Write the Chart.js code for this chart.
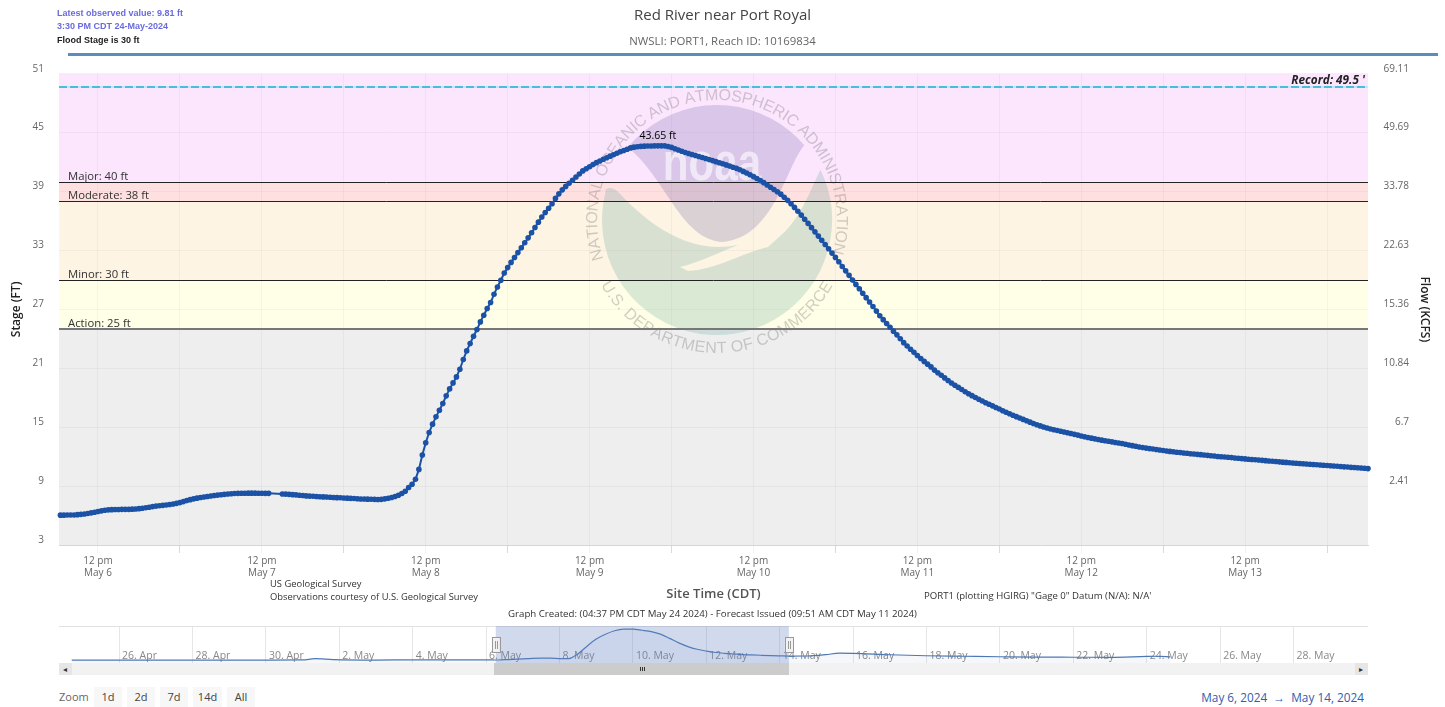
<!DOCTYPE html>
<html>
<head>
<meta charset="utf-8">
<title>Red River near Port Royal</title>
<script src="https://cdn.jsdelivr.net/npm/chart.js@4/dist/chart.umd.min.js"></script>
<style>
  html, body { margin: 0; padding: 0; background: #fff; }
  body { width: 1445px; height: 707px; position: relative; overflow: hidden; font-family: "Open Sans", sans-serif; }
  canvas { position: absolute; left: 0; }
  .txt { position: absolute; white-space: nowrap; line-height: 12px; }
  .box { position: absolute; }
  .note { font-size: 9.4px; color: #333; }
  .head { font-family: "Liberation Sans", sans-serif; font-size: 9px; font-weight: bold; color: #6a6ae0; }
  .zbtn { position: absolute; top: 687px; height: 20px; line-height: 20px; background: #f7f7f7; color: #444; font-size: 11px; text-align: center; }
</style>
</head>
<body>
<canvas id="mainChart" width="1445" height="602" style="top:0"></canvas>
<canvas id="navChart" width="1445" height="60" style="top:620px"></canvas>

<div class="txt head" style="left:57px;top:7px">Latest observed value: 9.81 ft</div>
<div class="txt head" style="left:57px;top:20px">3:30 PM CDT 24-May-2024</div>
<div class="txt head" style="left:57px;top:34px;color:#222">Flood Stage is 30 ft</div>
<div class="box" style="left:68px;top:53px;width:1370px;height:3px;background:#5b8cc0"></div>

<div class="txt note" style="left:270px;top:578px">US Geological Survey</div>
<div class="txt note" style="left:270px;top:591px">Observations courtesy of U.S. Geological Survey</div>
<div class="txt note" style="left:924px;top:590px;font-size:9.6px">PORT1 (plotting HGIRG) "Gage 0" Datum (N/A): N/A'</div>
<div class="txt note" style="left:508px;top:608px;font-size:9.7px">Graph Created: (04:37 PM CDT May 24 2024) - Forecast Issued (09:51 AM CDT May 11 2024)</div>

<div class="box" style="left:59px;top:663px;width:1309px;height:12px;background:#f2f2f2"></div>
<div class="box" style="left:494px;top:663px;width:295px;height:12px;background:#cccccc"></div>
<div class="box" style="left:59px;top:663px;width:13px;height:12px;background:#e6e6e6"></div>
<div class="box" style="left:1355px;top:663px;width:13px;height:12px;background:#e6e6e6"></div>
<div class="txt" style="left:63px;top:663px;font-size:8px;color:#333">&#9666;</div>
<div class="txt" style="left:1359px;top:663px;font-size:8px;color:#333">&#9656;</div>
<div class="box" style="left:640px;top:667px;width:1px;height:4px;background:#333"></div>
<div class="box" style="left:642px;top:667px;width:1px;height:4px;background:#333"></div>
<div class="box" style="left:644px;top:667px;width:1px;height:4px;background:#333"></div>

<div class="txt" style="left:59px;top:691px;font-size:11px;color:#666">Zoom</div>
<div class="zbtn" style="left:94px;width:28px">1d</div>
<div class="zbtn" style="left:127px;width:28px">2d</div>
<div class="zbtn" style="left:160px;width:28px">7d</div>
<div class="zbtn" style="left:193px;width:29px">14d</div>
<div class="zbtn" style="left:227px;width:28px">All</div>
<div class="txt" style="right:81px;top:691px;font-size:11.8px;color:#335cad">May 6, 2024 &nbsp;&#8594;&nbsp; May 14, 2024</div>

<script>
// observed stage (ft), one reading every half hour starting May 6 06:30
// nulls are the hole in the record on May 7 afternoon
var firstHour = 6.5;
var stepHours = 0.5;
var stages = [
  6.04,6.04,6.05,6.05,6.06,6.09,6.12,6.16,6.21,6.27,6.34,6.41,6.48,6.54,6.58,6.60,
  6.61,6.62,6.63,6.63,6.63,6.65,6.67,6.70,6.74,6.79,6.85,6.91,6.96,7.00,7.04,7.08,
  7.12,7.17,7.24,7.32,7.42,7.52,7.62,7.70,7.77,7.83,7.89,7.94,7.99,8.04,8.08,8.12,
  8.16,8.19,8.22,8.24,8.26,8.27,8.27,8.28,8.28,8.28,8.27,8.27,8.26,8.26,null,null,
  null,8.20,8.18,8.16,8.13,8.10,8.07,8.04,8.00,7.98,7.96,7.94,7.92,7.90,7.88,7.86,
  7.84,7.82,7.81,7.79,7.77,7.75,7.73,7.71,7.69,7.68,7.67,7.66,7.65,7.64,7.65,7.70,
  7.76,7.84,7.94,8.07,8.24,8.48,8.85,9.18,9.70,10.70,12.16,13.41,14.46,15.31,16.05,16.73,
  17.41,18.19,18.90,19.51,20.12,20.90,21.89,22.77,23.52,24.26,24.94,25.72,26.40,27.08,27.69,28.53,
  29.28,29.96,30.70,31.25,31.78,32.28,32.78,33.28,33.78,34.28,34.80,35.34,35.88,36.40,36.86,37.30,
  37.76,38.30,38.76,39.17,39.52,39.84,40.14,40.48,40.78,41.10,41.32,41.52,41.74,41.94,42.11,42.28,
  42.44,42.60,42.75,42.90,43.05,43.18,43.31,43.44,43.52,43.56,43.60,43.62,43.63,43.64,43.65,43.65,
  43.65,43.65,43.58,43.49,43.36,43.23,43.10,42.98,42.87,42.77,42.66,42.56,42.46,42.36,42.25,42.15,
  42.04,41.93,41.82,41.71,41.59,41.47,41.36,41.22,41.05,40.88,40.70,40.52,40.32,40.11,39.90,39.66,
  39.44,39.21,38.98,38.73,38.42,38.10,37.76,37.38,36.99,36.60,36.18,35.75,35.32,34.89,34.46,34.03,
  33.60,33.17,32.73,32.29,31.85,31.37,30.92,30.46,29.98,29.54,29.10,28.64,28.19,27.74,27.29,26.82,
  26.34,25.95,25.56,25.17,24.78,24.40,24.01,23.61,23.27,22.94,22.62,22.30,22.00,21.70,21.42,21.14,
  20.81,20.54,20.28,20.02,19.76,19.50,19.27,19.05,18.83,18.61,18.40,18.21,18.02,17.84,17.66,17.49,
  17.33,17.17,17.01,16.85,16.67,16.52,16.37,16.22,16.07,15.93,15.79,15.65,15.51,15.37,15.24,15.13,
  15.02,14.91,14.81,14.73,14.66,14.58,14.51,14.43,14.35,14.27,14.19,14.10,14.02,13.95,13.88,13.81,
  13.74,13.68,13.62,13.56,13.50,13.44,13.39,13.33,13.26,13.19,13.12,13.05,12.98,12.92,12.87,12.82,
  12.77,12.72,12.67,12.62,12.57,12.53,12.49,12.45,12.41,12.37,12.34,12.30,12.27,12.23,12.20,12.16,
  12.13,12.09,12.06,12.02,11.99,11.96,11.93,11.90,11.86,11.83,11.80,11.77,11.74,11.71,11.68,11.65,
  11.62,11.59,11.56,11.53,11.50,11.47,11.44,11.41,11.38,11.35,11.33,11.30,11.27,11.25,11.22,11.20,
  11.17,11.14,11.12,11.09,11.07,11.04,11.02,10.99,10.96,10.94,10.91,10.89,10.86,10.84,10.81,10.78
];

// axes
var stageTicks = [3, 9, 15, 21, 27, 33, 39, 45, 51];
var flowTicks = ['', '2.41', '6.7', '10.84', '15.36', '22.63', '33.78', '49.69', '69.11'];
var xMin = 6.29, xMax = 198;   // hours after May 6 00:00

// flood categories
var categoryNames = ['Action', 'Minor', 'Moderate', 'Major'];
var categoryLevels = [25, 30, 38, 40];
var categoryLineColors = ['#777', '#222', '#222', '#222'];
var bandColors = ['#eeeeee', '#fffee6', '#fdf4e3', '#fee0e0', '#fbe6fd'];
var recordStage = 49.5;
var peakStage = 43.65;
var peakHour = 94;

// navigator (whole period of record + forecast), hours after May 6 00:00
var navHours = [-271,-240,-216,-192,-168,-144,-120,-112,-100,-72,-48,-24,0,6.5,12,18,24,30,36,42,48,54,60,66,72,78,84,90,96,102,108,114,120,126,132,138,144,150,156,162,168,174,180,186,192,198,210,222,231,240,264,288,312,336,360,384,408,432,440,447.5];
var navStages = [5.9,5.9,5.9,6.0,5.9,6.0,6.2,7.6,6.6,6.0,6.2,6.2,6.3,6.04,6.41,6.70,7.32,8.12,8.27,8.22,7.79,7.70,13.41,22.77,31.40,37.20,41.52,43.44,43.49,42.15,40.52,37.38,32.29,26.82,22.30,19.05,16.85,15.13,14.10,13.33,12.62,12.16,11.77,11.41,11.09,10.78,10.9,12.5,14.4,14.2,12.4,11.2,10.6,10.0,9.5,9.4,9.3,10.4,10.6,9.81];
var navTicks = [-240,-192,-144,-96,-48,0,48,96,144,192,240,288,336,384,432,480,528];
var navLabels = ['26. Apr','28. Apr','30. Apr','2. May','4. May','6. May','8. May','10. May','12. May','14. May','16. May','18. May','20. May','22. May','24. May','26. May','28. May'];

var points = stages.map(function(v, i) { return {x: firstHour + i * stepHours, y: v}; });

var FONT = '"Open Sans", sans-serif';

function drawArcText(ctx, text, cx, cy, r, fromAngle, toAngle, inward) {
  // spreads the letters evenly between two angles (radians, 0 = straight up)
  var total = 0, widths = [];
  for (var i = 0; i < text.length; i++) { widths.push(ctx.measureText(text[i]).width); total += widths[i]; }
  var pos = 0;
  for (var j = 0; j < text.length; j++) {
    var a = fromAngle + (toAngle - fromAngle) * (pos + widths[j] / 2) / total;
    ctx.save();
    ctx.translate(cx + r * Math.sin(a), cy - r * Math.cos(a));
    ctx.rotate(inward ? a + Math.PI : a);
    ctx.fillText(text[j], 0, 0);
    ctx.restore();
    pos += widths[j];
  }
}

function drawLogo(ctx) {
  var cx = 717, cy = 220, r = 115;
  ctx.save();
  ctx.textAlign = 'center';
  ctx.textBaseline = 'alphabetic';
  // upper dome
  ctx.fillStyle = 'rgba(95,85,165,0.22)';
  ctx.beginPath();
  ctx.arc(cx, cy, r, Math.atan2(-73, -90), Math.atan2(-78, 91));
  ctx.bezierCurveTo(785, 168, 775, 236, 723, 242);
  ctx.bezierCurveTo(680, 240, 665, 175, 627, 147);
  ctx.closePath();
  ctx.fill();
  // lower part, the bird is what is left out
  ctx.fillStyle = 'rgba(70,150,140,0.2)';
  ctx.beginPath();
  ctx.arc(cx, cy, r, Math.PI + 0.26, -0.452, true);
  ctx.bezierCurveTo(808, 195, 800, 220, 778, 238);
  ctx.lineTo(768, 247);
  ctx.bezierCurveTo(745, 252, 715, 270, 688, 271);
  ctx.lineTo(680, 267);
  ctx.bezierCurveTo(700, 262, 720, 252, 738, 245);
  ctx.bezierCurveTo(690, 255, 650, 225, 622, 196);
  ctx.bezierCurveTo(615, 188, 610, 186, 605, 190);
  ctx.closePath();
  ctx.fill();
  // letters on the dome
  ctx.save();
  ctx.fillStyle = 'rgba(255,255,255,0.6)';
  ctx.font = 'bold 54px "Liberation Sans", sans-serif';
  ctx.translate(712, 180);
  ctx.scale(0.78, 1);
  ctx.fillText('noaa', 0, 0);
  ctx.restore();
  // seal text
  ctx.fillStyle = 'rgba(90,90,90,0.28)';
  ctx.font = '16px "Liberation Sans", sans-serif';
  drawArcText(ctx, 'NATIONAL OCEANIC AND ATMOSPHERIC ADMINISTRATION', cx, cy, 120, -1.90, 1.85, false);
  drawArcText(ctx, 'U.S. DEPARTMENT OF COMMERCE', cx, cy, 133, -2.08, -4.2, true);
  ctx.restore();
}

var mainDecor = {
  id: 'mainDecor',
  beforeDraw: function(chart) {
    var ctx = chart.ctx, a = chart.chartArea, y = chart.scales.y;
    var edges = [3].concat(categoryLevels, [51]);
    ctx.save();
    for (var i = 0; i < bandColors.length; i++) {
      var top = y.getPixelForValue(edges[i + 1]), bottom = y.getPixelForValue(edges[i]);
      ctx.fillStyle = bandColors[i];
      ctx.fillRect(a.left, top, a.right - a.left, bottom - top);
    }
    ctx.restore();
  },
  beforeDatasetsDraw: function(chart) {
    var ctx = chart.ctx, a = chart.chartArea, y = chart.scales.y;
    drawLogo(ctx);
    // flood lines, snapped to whole pixels so they stay crisp
    ctx.save();
    for (var i = 0; i < categoryLevels.length; i++) {
      var py = Math.round(y.getPixelForValue(categoryLevels[i]));
      ctx.strokeStyle = categoryLineColors[i];
      ctx.lineWidth = i === 0 ? 2 : 1;
      ctx.beginPath();
      ctx.moveTo(a.left, i === 0 ? py : py + 0.5);
      ctx.lineTo(a.right, i === 0 ? py : py + 0.5);
      ctx.stroke();
    }
    // record line: pale solid with a stronger dash on top
    var ry = Math.round(y.getPixelForValue(recordStage)) - 1;
    ctx.lineWidth = 2;
    ctx.strokeStyle = '#c3e8f5';
    ctx.beginPath();
    ctx.moveTo(a.left, ry);
    ctx.lineTo(a.right, ry);
    ctx.stroke();
    ctx.strokeStyle = '#45bfdc';
    ctx.setLineDash([8, 3]);
    ctx.beginPath();
    ctx.moveTo(a.left, ry);
    ctx.lineTo(a.right, ry);
    ctx.stroke();
    ctx.restore();
  },
  afterDatasetsDraw: function(chart) {
    var ctx = chart.ctx, a = chart.chartArea, x = chart.scales.x, y = chart.scales.y;
    ctx.save();
    ctx.fillStyle = '#333';
    ctx.font = '11.3px ' + FONT;
    ctx.textBaseline = 'alphabetic';
    ctx.textAlign = 'left';
    for (var i = 0; i < categoryNames.length; i++) {
      ctx.fillText(categoryNames[i] + ': ' + categoryLevels[i] + ' ft', a.left + 9, y.getPixelForValue(categoryLevels[i]) - 2);
    }
    ctx.fillStyle = '#222';
    ctx.font = 'italic bold 11.8px ' + FONT;
    ctx.textAlign = 'right';
    ctx.fillText('Record: ' + recordStage + " '", a.right - 3, y.getPixelForValue(recordStage) - 4);
    ctx.fillStyle = '#000';
    ctx.font = '10.5px ' + FONT;
    ctx.textAlign = 'center';
    ctx.fillText(peakStage + ' ft', x.getPixelForValue(peakHour), y.getPixelForValue(peakStage) - 7);
    ctx.restore();
  }
};

new Chart(document.getElementById('mainChart'), {
  type: 'line',
  plugins: [mainDecor],
  data: {
    datasets: [{
      label: 'Observed',
      data: points,
      borderColor: '#1b52a6',
      backgroundColor: '#1b52a6',
      borderWidth: 2,
      pointRadius: 2.8,
      pointBorderWidth: 0,
      spanGaps: true,
      clip: false
    }]
  },
  options: {
    responsive: false,
    animation: false,
    events: [],
    layout: {padding: 0},
    plugins: {
      legend: {display: false},
      tooltip: {enabled: false},
      title: {
        display: true,
        text: 'Red River near Port Royal',
        color: '#444',
        font: {family: FONT, size: 15, weight: 'normal'},
        padding: {top: 7, bottom: 6}
      },
      subtitle: {
        display: true,
        text: 'NWSLI: PORT1, Reach ID: 10169834',
        color: '#666',
        font: {family: FONT, size: 11.4, weight: 'normal'},
        padding: {top: 4, bottom: 25}
      }
    },
    scales: {
      x: {
        type: 'linear',
        min: xMin,
        max: xMax,
        afterBuildTicks: function(scale) {
          var list = [];
          for (var h = 12; h <= 192; h += 12) list.push({value: h});
          scale.ticks = list;
        },
        afterFit: function(scale) { scale.height = 57; },
        grid: {
          color: 'rgba(0,0,0,0.035)',
          tickLength: 8,
          tickColor: function(c) { return c.tick && c.tick.value % 24 === 0 ? '#d5dbe6' : 'rgba(0,0,0,0.05)'; }
        },
        border: {color: '#ccd6eb'},
        ticks: {
          autoSkip: false,
          maxRotation: 0,
          padding: 2,
          color: '#666',
          font: {family: FONT, size: 10},
          callback: function(v) {
            if (v % 24 === 0) return '';
            return ['12 pm', 'May ' + (6 + Math.floor(v / 24))];
          }
        },
        title: {
          display: true,
          text: 'Site Time (CDT)',
          color: '#555',
          font: {family: FONT, size: 13, weight: '600'},
          padding: 0
        }
      },
      y: {
        type: 'linear',
        position: 'left',
        min: 3,
        max: 51,
        afterBuildTicks: function(scale) { scale.ticks = stageTicks.map(function(v) { return {value: v}; }); },
        afterFit: function(scale) { scale.width = 59; },
        grid: {color: 'rgba(0,0,0,0.035)', drawTicks: false},
        border: {display: false},
        ticks: {
          padding: 15,
          color: '#666',
          font: {family: FONT, size: 10, lineHeight: 1},
          callback: function(v) { return [String(v), '']; }
        },
        title: {
          display: true,
          text: 'Stage (FT)',
          color: '#222',
          font: {family: FONT, size: 12, weight: '600'},
          padding: {top: 9, bottom: 0}
        }
      },
      y2: {
        type: 'linear',
        position: 'right',
        weight: 0,
        min: 3,
        max: 51,
        afterBuildTicks: function(scale) { scale.ticks = stageTicks.map(function(v) { return {value: v}; }); },
        afterFit: function(scale) { scale.width = 41; },
        grid: {drawOnChartArea: false, drawTicks: false},
        border: {display: false},
        ticks: {
          padding: 14,
          crossAlign: 'far',
          color: '#666',
          font: {family: FONT, size: 10, lineHeight: 1},
          callback: function(v) { return [flowTicks[stageTicks.indexOf(v)], '']; }
        }
      },
      // empty outer axis, only carries the flow title
      y3: {
        type: 'linear',
        position: 'right',
        weight: 1,
        min: 3,
        max: 51,
        afterFit: function(scale) { scale.width = 36; },
        grid: {display: false},
        border: {display: false},
        ticks: {display: false},
        title: {
          display: true,
          text: 'Flow (KCFS)',
          color: '#222',
          font: {family: FONT, size: 12, weight: '600'},
          padding: {top: 13, bottom: 0}
        }
      }
    }
  }
});

var navDecor = {
  id: 'navDecor',
  beforeDatasetsDraw: function(chart) {
    var ctx = chart.ctx, a = chart.chartArea, x = chart.scales.x;
    ctx.save();
    ctx.strokeStyle = '#e2e2e2';
    ctx.beginPath();
    ctx.moveTo(a.left, a.top + 0.5);
    ctx.lineTo(a.right, a.top + 0.5);
    ctx.stroke();
    ctx.fillStyle = '#888';
    ctx.font = '10.5px ' + FONT;
    ctx.textAlign = 'left';
    ctx.textBaseline = 'middle';
    navTicks.forEach(function(t, i) {
      ctx.fillText(navLabels[i], x.getPixelForValue(t) + 3, a.bottom - 7);
    });
    ctx.restore();
  },
  afterDatasetsDraw: function(chart) {
    var ctx = chart.ctx, a = chart.chartArea, x = chart.scales.x;
    var l = x.getPixelForValue(xMin), r = x.getPixelForValue(xMax);
    ctx.save();
    ctx.fillStyle = 'rgba(102,133,194,0.3)';
    ctx.fillRect(l, a.top, r - l, a.bottom - a.top);
    [l, r].forEach(function(px) {
      ctx.fillStyle = '#f2f2f2';
      ctx.strokeStyle = '#999';
      ctx.fillRect(px - 4, a.top + 11, 8, 15);
      ctx.strokeRect(Math.round(px - 4) + 0.5, a.top + 11.5, 8, 15);
      ctx.beginPath();
      ctx.moveTo(Math.round(px) - 0.5, a.top + 15); ctx.lineTo(Math.round(px) - 0.5, a.top + 23);
      ctx.moveTo(Math.round(px) + 1.5, a.top + 15); ctx.lineTo(Math.round(px) + 1.5, a.top + 23);
      ctx.stroke();
    });
    ctx.restore();
  }
};

new Chart(document.getElementById('navChart'), {
  type: 'line',
  plugins: [navDecor],
  data: {
    datasets: [{
      data: navHours.map(function(h, i) { return {x: h, y: navStages[i]}; }),
      borderColor: '#4d78b4',
      borderWidth: 1.2,
      backgroundColor: 'rgba(77,120,180,0.06)',
      fill: 'start',
      pointRadius: 0,
      cubicInterpolationMode: 'monotone'
    }]
  },
  options: {
    responsive: false,
    animation: false,
    events: [],
    layout: {padding: {left: 59, right: 77, top: 6, bottom: 17}},
    plugins: {legend: {display: false}, tooltip: {enabled: false}, title: {display: false}},
    scales: {
      x: {
        type: 'linear',
        min: -279.3,
        max: 576.7,
        afterBuildTicks: function(scale) { scale.ticks = navTicks.map(function(v) { return {value: v}; }); },
        afterFit: function(scale) { scale.height = 0; },
        grid: {color: '#e6e6e6', drawTicks: false},
        border: {display: false},
        ticks: {display: false}
      },
      y: {
        display: false,
        min: 2.4,
        max: 47.3
      }
    }
  }
});
</script>
</body>
</html>
